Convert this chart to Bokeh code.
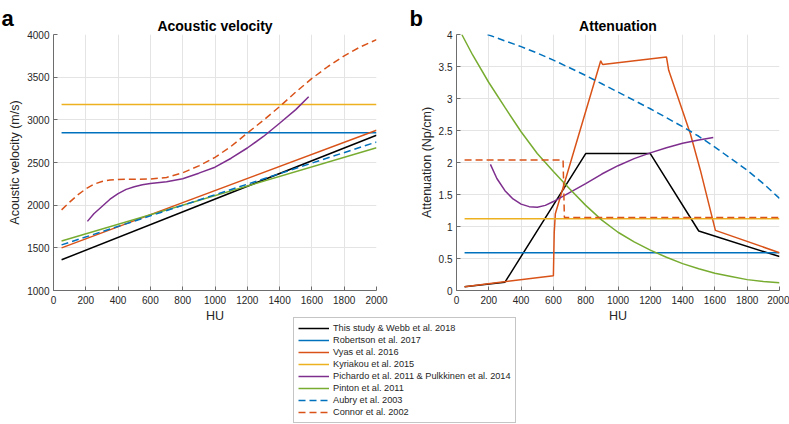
from bokeh.plotting import figure
from bokeh.models import Range1d, FixedTicker, Legend, LegendItem, ColumnDataSource
from bokeh.core.properties import value
from bokeh.layouts import row, column
from bokeh.embed import file_html
from bokeh.resources import INLINE

FONT = "Liberation Sans"

# ---------------- data ----------------
x_ticks = [0, 200, 400, 600, 800, 1000, 1200, 1400, 1600, 1800, 2000]
vel_ticks = [1000, 1500, 2000, 2500, 3000, 3500, 4000]
att_ticks = [0, 0.5, 1, 1.5, 2, 2.5, 3, 3.5, 4]
att_tick_labels = ["0", "0.5", "1", "1.5", "2", "2.5", "3", "3.5", "4"]
panel_letters = ["a", "b"]

# Acoustic velocity (m/s)
hu_lin = [50, 2000]
vel_this = [1360, 2820]
vel_robertson = [2850, 2850]
vel_vyas = [1500, 2878]
vel_kyriakou = [3180, 3180]
hu_pich_v = [210, 250, 300, 350, 400, 450, 500, 550, 600, 700, 800, 900, 1000, 1100, 1200, 1300, 1400, 1500, 1580]
vel_pichardo = [1810, 1900, 1985, 2070, 2135, 2185, 2215, 2240, 2255, 2275, 2310, 2375, 2445, 2550, 2670, 2805, 2960, 3120, 3270]
vel_pinton = [1580, 2672]
vel_aubry = [1535, 2740]
hu_connor_v = [50, 100, 150, 200, 250, 300, 350, 400, 500, 600, 700, 800, 900, 1000, 1100, 1200, 1300, 1400, 1500, 1600, 1700, 1800, 1900, 2000]
vel_connor = [1945, 2035, 2120, 2190, 2245, 2278, 2295, 2302, 2303, 2306, 2325, 2380, 2460, 2560, 2690, 2845, 2995, 3155, 3325, 3485, 3625, 3750, 3855, 3940]

# Attenuation (Np/cm)
hu_this_a = [50, 300, 800, 1200, 1500, 2000]
att_this = [0.06, 0.13, 2.14, 2.14, 0.93, 0.53]
att_robertson = [0.59, 0.59]
hu_vyas_a = [50, 600, 605, 612, 893, 900, 906, 1300, 1314, 1448, 1510, 1603, 2000]
att_vyas = [0.06, 0.23, 0.9, 1.2, 3.59, 3.55, 3.53, 3.65, 3.44, 2.45, 1.88, 0.94, 0.59]
att_kyriakou = [1.12, 1.12]
hu_pich_a = [210, 250, 300, 350, 400, 450, 500, 550, 600, 700, 800, 900, 1000, 1100, 1200, 1300, 1400, 1500, 1590]
att_pichardo = [1.97, 1.75, 1.56, 1.43, 1.35, 1.31, 1.30, 1.33, 1.39, 1.53, 1.67, 1.82, 1.95, 2.06, 2.15, 2.23, 2.30, 2.35, 2.39]
hu_pinton_a = [33, 100, 200, 300, 400, 500, 600, 700, 800, 900, 1000, 1100, 1200, 1300, 1400, 1500, 1600, 1700, 1800, 1900, 2000]
att_pinton = [4.0, 3.68, 3.25, 2.86, 2.48, 2.14, 1.86, 1.59, 1.33, 1.10, 0.91, 0.76, 0.63, 0.52, 0.42, 0.34, 0.27, 0.22, 0.17, 0.14, 0.12]
hu_aubry_a = [192, 300, 400, 500, 600, 700, 800, 900, 1000, 1100, 1200, 1300, 1400, 1500, 1600, 1700, 1800, 1900, 2000]
att_aubry = [4.0, 3.9, 3.81, 3.71, 3.6, 3.48, 3.36, 3.23, 3.1, 2.97, 2.84, 2.7, 2.56, 2.41, 2.24, 2.06, 1.88, 1.67, 1.44]
hu_connor_a = [50, 660, 668, 2000]
att_connor = [2.04, 2.04, 1.14, 1.14]

labels = [
    "This study & Webb et al. 2018",
    "Robertson et al. 2017",
    "Vyas et al. 2016",
    "Kyriakou et al. 2015",
    "Pichardo et al. 2011 & Pulkkinen et al. 2014",
    "Pinton et al. 2011",
    "Aubry et al. 2003",
    "Connor et al. 2002",
]
colors = ["#000000", "#0072BD", "#D95319", "#EDB120", "#7E2F8E", "#77AC30", "#0072BD", "#D95319"]
dashes = ["solid", "solid", "solid", "solid", "solid", "solid", "7 4", "7 4"]
LW = 1.5

vel_series = [
    (hu_lin, vel_this), (hu_lin, vel_robertson), (hu_lin, vel_vyas), (hu_lin, vel_kyriakou),
    (hu_pich_v, vel_pichardo), (hu_lin, vel_pinton), (hu_lin, vel_aubry), (hu_connor_v, vel_connor),
]
att_series = [
    (hu_this_a, att_this), (hu_lin, att_robertson), (hu_vyas_a, att_vyas), (hu_lin, att_kyriakou),
    (hu_pich_a, att_pichardo), (hu_pinton_a, att_pinton), (hu_aubry_a, att_aubry), (hu_connor_a, att_connor),
]


def style(p, yticks, ylabel, title):
    p.title.text = title
    p.title.align = "center"
    p.title.text_font = FONT
    p.title.text_font_size = "14px"
    p.title.text_font_style = "bold"
    p.title.text_color = "#000000"
    p.title.standoff = 2
    p.outline_line_color = None
    p.xaxis.ticker = FixedTicker(ticks=x_ticks)
    p.yaxis.ticker = FixedTicker(ticks=yticks)
    for ax in (p.xaxis[0], p.yaxis[0]):
        ax.axis_line_color = "#6d6d6d"
        ax.major_tick_line_color = "#6d6d6d"
        ax.major_tick_in = 4
        ax.major_tick_out = 0
        ax.minor_tick_line_color = None
        ax.major_label_text_font = FONT
        ax.major_label_text_font_size = "10px"
        ax.major_label_text_color = "#262626"
        ax.axis_label_text_font = FONT
        ax.axis_label_text_font_size = "12.5px"
        ax.axis_label_text_font_style = "normal"
        ax.axis_label_text_color = "#262626"
    p.xaxis.axis_label = "HU"
    p.yaxis.axis_label = ylabel
    p.xaxis.major_label_standoff = 5
    p.yaxis.major_label_standoff = 4
    p.xaxis.axis_label_standoff = 2
    p.yaxis.axis_label_standoff = 2
    p.grid.grid_line_color = "#e4e4e4"
    p.grid.grid_line_width = 1
    p.background_fill_alpha = 0
    p.border_fill_alpha = 0


FIG_H = 330
p1 = figure(width=398, height=FIG_H, x_range=Range1d(0, 2000), y_range=Range1d(1000, 4000),
            output_backend="svg", toolbar_location=None,
            min_border_left=53, min_border_right=22, min_border_top=34, min_border_bottom=FIG_H - 290)
style(p1, vel_ticks, "Acoustic velocity (m/s)", "Acoustic velocity")

p2 = figure(width=391, height=FIG_H, x_range=Range1d(0, 2000), y_range=Range1d(0, 4),
            output_backend="svg", toolbar_location=None,
            min_border_left=58, min_border_right=10, min_border_top=34, min_border_bottom=FIG_H - 290)
style(p2, att_ticks, "Attenuation (Np/cm)", "Attenuation")
p2.yaxis.major_label_overrides = {t: l for t, l in zip(att_ticks, att_tick_labels)}

for (xs, ys), c, d in zip(vel_series, colors, dashes):
    p1.line(xs, ys, line_color=c, line_width=LW, line_dash=d)
for (xs, ys), c, d in zip(att_series, colors, dashes):
    p2.line(xs, ys, line_color=c, line_width=LW, line_dash=d)

# transparent overlay figure carrying the panel letters and the shared legend
OV_W, OV_H = 789, 424
p3 = figure(width=OV_W, height=OV_H, x_range=Range1d(0, OV_W), y_range=Range1d(OV_H, 0),
            output_backend="svg", toolbar_location=None, x_axis_type=None, y_axis_type=None,
            min_border=0, min_border_left=0, min_border_right=0, min_border_top=0, min_border_bottom=0)
p3.outline_line_color = None
p3.grid.visible = False
p3.background_fill_alpha = 0
p3.border_fill_alpha = 0

letters_src = ColumnDataSource(dict(x=[1, 409], y=[18, 18], t=panel_letters))
p3.text(x="x", y="y", text="t", source=letters_src, text_font=value(FONT), text_font_size="22px",
        text_font_style="bold", text_baseline="alphabetic", text_align="left", text_color="#000000")

items = []
for lab, c, d in zip(labels, colors, dashes):
    src = ColumnDataSource(dict(x=[-50, -40], y=[-50, -40]))
    r = p3.line("x", "y", source=src, line_color=c, line_width=LW, line_dash=d)
    items.append(LegendItem(label=lab, renderers=[r]))
leg = Legend(items=items, location=(293, 1), label_text_font=FONT, label_text_font_size="9.2px",
             label_text_color="#262626", glyph_width=31, glyph_height=12, label_height=12,
             label_standoff=4, spacing=0, padding=4, margin=0,
             border_line_color="#8c8c8c", border_line_width=1, background_fill_color="white",
             background_fill_alpha=1)
p3.add_layout(leg)
p3.margin = (-FIG_H, 0, 0, 0)

layout = column(row(p1, p2), p3)

open("out.html", "w").write(file_html(layout, INLINE))
